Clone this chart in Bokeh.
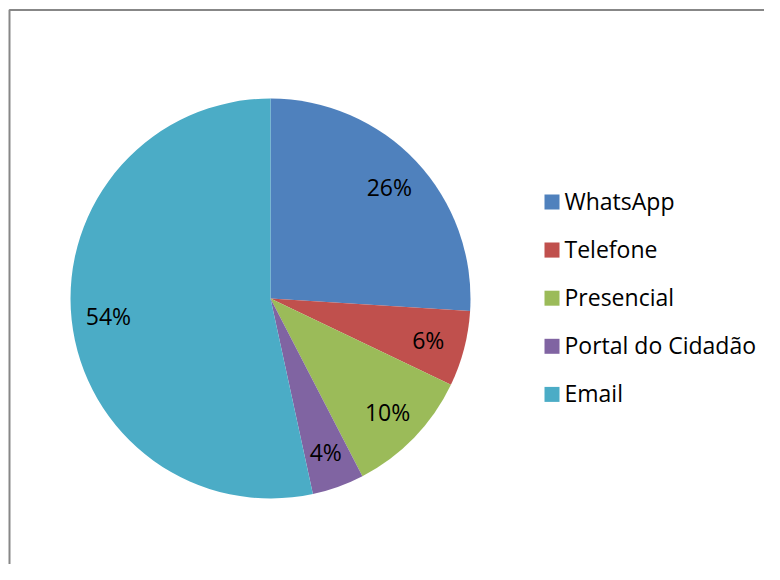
import math
from bokeh.plotting import figure
from bokeh.models import Range1d, ColumnDataSource
from bokeh.core.properties import value
from bokeh.embed import file_html
from bokeh.resources import INLINE

categories = ["WhatsApp", "Telefone", "Presencial", "Portal do Cidadão", "Email"]
shares = [26.0, 6.1, 10.3, 4.2, 53.4]
pct_labels = ["26%", "6%", "10%", "4%", "54%"]
colors = ["#4F81BD", "#C0504D", "#9BBB59", "#8064A2", "#4BACC6"]

W, H = 764, 564
FONT = "Open Sans"
FS = "23px"

p = figure(width=W, height=H, output_backend="svg", toolbar_location=None,
           x_range=Range1d(0, W), y_range=Range1d(0, H), min_border=0)
p.axis.visible = False
p.grid.visible = False
p.outline_line_color = None
p.background_fill_color = "white"

# frame border (top and left visible)
p.line([9, 9, W + 10], [-10, H - 9.5, H - 9.5], line_color="#878787", line_width=2)

cx, cy, r = 270, H - 298, 200
total = sum(shares)
starts, ends, lx, ly = [], [], [], []
cum = 0.0
for s in shares:
    a0 = math.pi / 2 - 2 * math.pi * cum / total
    a1 = math.pi / 2 - 2 * math.pi * (cum + s) / total
    starts.append(a1)
    ends.append(a0)
    mid = (a0 + a1) / 2
    lr = 0.815 * r
    lx.append(cx + lr * math.cos(mid))
    ly.append(cy + lr * math.sin(mid))
    cum += s

src = ColumnDataSource(dict(start=starts, end=ends, color=colors, lx=lx, ly=ly,
                            lab=pct_labels))
p.wedge(x=cx, y=cy, radius=r, start_angle="start", end_angle="end",
        direction="anticlock", fill_color="color", line_color=None, source=src)
p.text(x="lx", y="ly", text="lab", source=src, text_align="center",
       text_baseline="middle", text_font=value(FONT), text_font_size=FS,
       text_color="black")

# legend
row0 = H - 201.5
step = 48.1
n = len(categories)
leg = ColumnDataSource(dict(
    sx=[551.5] * n,
    sy=[row0 - i * step for i in range(n)],
    tx=[564] * n,
    ty=[row0 + 1 - i * step for i in range(n)],
    name=categories, color=colors))
p.rect(x="sx", y="sy", width=15, height=15, fill_color="color", line_color=None,
       source=leg)
p.text(x="tx", y="ty", text="name", source=leg, text_align="left",
       text_baseline="middle", text_font=value(FONT), text_font_size=FS,
       text_color="black")

open("out.html", "w").write(file_html(p, INLINE))
